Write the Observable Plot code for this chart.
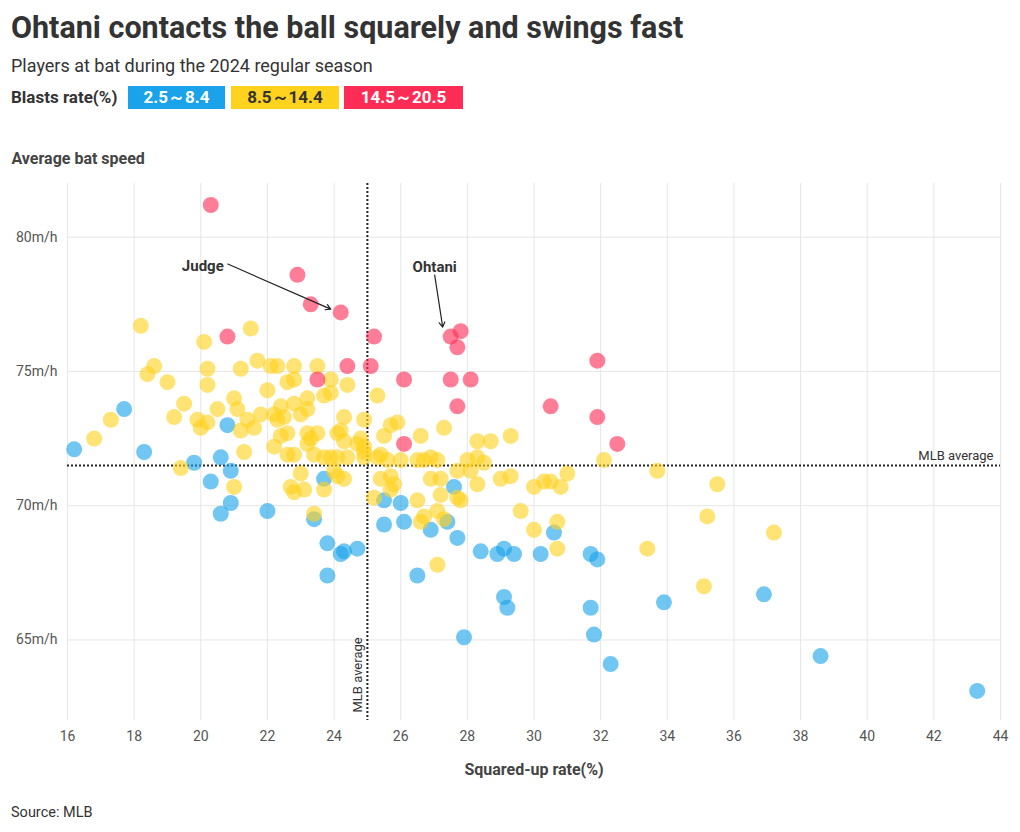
<!DOCTYPE html>
<html>
<head>
<meta charset="utf-8">
<script src="https://cdn.jsdelivr.net/npm/d3@7"></script>
<script src="https://cdn.jsdelivr.net/npm/@observablehq/plot@0.6"></script>
<style>
  body { margin: 0; background: #fff; font-family: Roboto, "Noto Sans", sans-serif; color: #333; width: 1020px; height: 832px; position: relative; overflow: hidden; }
  .abs { position: absolute; white-space: nowrap; }
  #title { left: 11px; top: 10px; line-height: 36px; font-size: 30.5px; font-weight: 700; color: #333; }
  #subtitle { left: 11px; top: 54px; line-height: 24px; font-size: 18px; color: #333; }
  #legend { left: 11px; top: 86px; height: 23px; line-height: 23px; font-size: 17px; font-weight: 700; display: flex; }
  #legend .sw { display: inline-block; height: 23px; text-align: center; }
  #chart { left: 0; top: 130px; }
  #source { left: 11px; top: 802px; line-height: 22px; font-size: 14.5px; color: #333; }
</style>
</head>
<body>
<div id="title" class="abs"></div>
<div id="subtitle" class="abs"></div>
<div id="legend" class="abs"></div>
<div id="chart" class="abs"></div>
<div id="source" class="abs"></div>
<script>
// ---- texts ----
const titleText = "Ohtani contacts the ball squarely and swings fast";
const subtitleText = "Players at bat during the 2024 regular season";
const legendTitle = "Blasts rate(%)";
const groupLabels = ["2.5～8.4", "8.5～14.4", "14.5～20.5"];
const groupColors = ["#1aa3ea", "#ffd21e", "#ff2d55"];
const groupTextColors = ["#fff", "#333", "#fff"];
const yAxisTitle = "Average bat speed";
const xAxisTitle = "Squared-up rate(%)";
const sourceText = "Source: MLB";

// ---- axis ticks ----
const xTicks = [16, 18, 20, 22, 24, 26, 28, 30, 32, 34, 36, 38, 40, 42, 44];
const yTicks = [65, 70, 75, 80];

// ---- MLB averages ----
const avgSquaredUp = 25;
const avgBatSpeed = 71.5;
const avgLabel = "MLB average";

// ---- players: [squared-up rate %, bat speed mph] ----
const blastsLow = [
  [16.2,72.1],[17.7,73.6],[18.3,72.0],[19.8,71.6],[20.8,73.0],[20.6,71.8],[20.9,71.3],[20.3,70.9],
  [20.9,70.1],[20.6,69.7],[22.0,69.8],[23.7,71.0],[23.4,69.5],[23.8,68.6],[24.2,68.2],[24.3,68.3],
  [24.7,68.4],[23.8,67.4],[25.5,70.2],[26.0,70.1],[25.5,69.3],[26.1,69.4],[26.9,69.1],[27.4,69.4],
  [27.6,70.7],[27.7,68.8],[26.5,67.4],[28.4,68.3],[28.9,68.2],[29.1,68.4],[29.4,68.2],[30.2,68.2],
  [30.6,69.0],[31.7,68.2],[31.9,68.0],[29.1,66.6],[29.2,66.2],[31.7,66.2],[27.9,65.1],[31.8,65.2],
  [32.3,64.1],[33.9,66.4],[36.9,66.7],[38.6,64.4],[43.3,63.1]
];
const blastsMid = [
  [16.8,72.5],[17.3,73.2],[18.2,76.7],[18.4,74.9],[18.6,75.2],[19.0,74.6],[19.5,73.8],[19.2,73.3],
  [19.4,71.4],[19.9,73.2],[20.0,72.9],[20.2,73.1],[20.1,76.1],[20.2,75.1],[20.2,74.5],[20.5,73.6],
  [21.0,74.0],[21.1,73.6],[21.2,72.8],[21.4,73.2],[21.6,72.9],[21.3,72.0],[21.0,70.7],[21.2,75.1],
  [21.5,76.6],[21.7,75.4],[21.8,73.4],[22.0,74.3],[22.1,75.2],[22.3,75.2],[22.8,75.2],[23.5,75.2],
  [22.6,74.6],[22.8,74.7],[22.2,73.4],[22.4,73.7],[22.3,73.2],[22.5,73.3],[22.8,73.8],[23.2,74.0],
  [23.2,73.6],[23.0,73.4],[22.2,72.2],[22.4,72.6],[22.6,72.7],[22.6,71.9],[22.8,71.9],[23.2,72.7],
  [23.3,72.5],[23.2,72.3],[23.5,72.7],[23.4,71.9],[23.7,71.8],[23.9,71.8],[24.1,71.8],[24.4,71.8],
  [23.9,74.7],[23.7,74.1],[23.9,74.2],[24.4,74.5],[24.3,73.3],[24.2,72.8],[24.1,72.7],[24.3,72.4],
  [24.7,72.3],[24.8,72.5],[24.9,73.2],[24.9,72.2],[24.9,72.0],[24.9,71.8],[23.0,71.2],[22.7,70.7],
  [22.8,70.5],[23.1,70.6],[23.4,69.7],[23.7,70.6],[24.0,71.3],[24.1,71.1],[24.3,71.0],
  [25.3,74.1],[25.9,73.1],[25.7,73.0],[25.5,72.6],[26.6,72.6],[27.3,72.9],[28.3,72.4],[28.7,72.4],
  [29.3,72.6],[25.4,71.9],[25.3,71.8],[25.6,71.7],[26.0,71.7],[26.5,71.7],[26.7,71.7],[26.9,71.8],
  [27.1,71.7],[28.0,71.7],[28.3,71.8],[28.5,71.6],[27.7,71.3],[28.1,71.3],[32.1,71.7],[33.7,71.3],
  [25.4,71.0],[25.7,71.1],[25.8,70.8],[25.7,70.6],[26.9,71.0],[27.2,71.0],[27.2,70.4],[26.5,70.2],
  [27.7,70.3],[27.8,70.2],[28.3,70.8],[29.0,71.0],[29.3,71.1],[30.0,70.7],[30.3,70.9],[30.5,70.9],
  [30.8,70.7],[31.0,71.2],[25.2,70.3],[29.6,69.8],[27.1,69.8],[27.3,69.5],[26.6,69.4],[26.7,69.6],
  [30.0,69.1],[30.7,69.4],[30.7,68.4],[33.4,68.4],[27.1,67.8],[35.5,70.8],[35.2,69.6],[37.2,69.0],
  [35.1,67.0]
];
const blastsHigh = [
  [20.3,81.2],[22.9,78.6],[23.3,77.5],[24.2,77.2],[20.8,76.3],[25.2,76.3],[27.5,76.3],[27.8,76.5],
  [27.7,75.9],[25.1,75.2],[23.5,74.7],[24.4,75.2],[26.1,74.7],[27.5,74.7],[28.1,74.7],[27.7,73.7],
  [31.9,75.4],[30.5,73.7],[31.9,73.3],[32.5,72.3],[26.1,72.3]
];

// ---- annotations ----
const noteNames = ["Judge", "Ohtani"];
const noteTextX = [20.69, 27.02];
const noteTextY = [78.92, 78.88];
const noteAnchor = ["end", "middle"];
const arrowFromX = [20.81, 27.02];
const arrowFromY = [79.0, 78.59];
const arrowToX = [23.9, 27.26];
const arrowToY = [77.32, 76.65];

// ---- header ----
document.getElementById("title").textContent = titleText;
document.getElementById("subtitle").textContent = subtitleText;
document.getElementById("source").textContent = sourceText;
const legendEl = document.getElementById("legend");
const lt = document.createElement("span");
lt.textContent = legendTitle;
lt.style.display = "inline-block";
lt.style.width = "117px";
legendEl.appendChild(lt);
const swWidths = [97, 108, 119];
const swGaps = [0, 6, 5];
groupLabels.forEach((g, i) => {
  const s = document.createElement("span");
  s.className = "sw";
  s.textContent = g;
  s.style.background = groupColors[i];
  s.style.color = groupTextColors[i];
  s.style.width = swWidths[i] + "px";
  s.style.marginLeft = swGaps[i] + "px";
  legendEl.appendChild(s);
});

// ---- data table ----
const players = [];
[blastsLow, blastsMid, blastsHigh].forEach((arr, gi) => {
  arr.forEach(([x, y]) => players.push({ squaredUp: x, batSpeed: y, group: groupLabels[gi] }));
});
const notes = noteNames.map((n, i) => ({
  name: n, tx: noteTextX[i], ty: noteTextY[i], anchor: noteAnchor[i],
  x1: arrowFromX[i], y1: arrowFromY[i], x2: arrowToX[i], y2: arrowToY[i]
}));

const chart = Plot.plot({
  width: 1020,
  height: 660,
  marginTop: 53,
  marginLeft: 67,
  marginRight: 20,
  marginBottom: 70,
  style: { fontFamily: "Roboto, 'Noto Sans', sans-serif", fontSize: "14px", color: "#555", background: "transparent" },
  x: { domain: [16, 44] },
  y: { domain: [62, 82] },
  color: { domain: groupLabels, range: groupColors },
  marks: [
    Plot.gridX(xTicks, { stroke: "#e6e6e6", strokeOpacity: 1 }),
    Plot.gridY(yTicks, { stroke: "#e6e6e6", strokeOpacity: 1 }),
    Plot.axisX(xTicks, { tickSize: 0, tickPadding: 11, label: null, fill: "#555", fontSize: 14 }),
    Plot.axisY(yTicks, { tickSize: 0, tickPadding: 10, label: null, tickFormat: d => d + "m/h", fill: "#555", fontSize: 14 }),
    Plot.ruleY([avgBatSpeed], { stroke: "#222", strokeWidth: 2, strokeDasharray: "2,2" }),
    Plot.ruleX([avgSquaredUp], { stroke: "#222", strokeWidth: 2, strokeDasharray: "2,2" }),
    Plot.dot(players, { x: "squaredUp", y: "batSpeed", fill: "group", r: 8, fillOpacity: 0.62, stroke: "none" }),
    Plot.text([avgLabel], { frameAnchor: "right", y: () => avgBatSpeed, text: d => d, textAnchor: "end", dx: -7, dy: -10, fill: "#333", fontSize: 13 }),
    Plot.text([avgLabel], { frameAnchor: "bottom", x: () => avgSquaredUp, text: d => d, rotate: -90, textAnchor: "start", lineAnchor: "middle", dx: -10, dy: -8, fill: "#333", fontSize: 13 }),
    Plot.arrow(notes, { x1: "x1", y1: "y1", x2: "x2", y2: "y2", stroke: "#222", strokeWidth: 1.2, headLength: 7, insetStart: 0, insetEnd: 0 }),
    Plot.text(notes.filter(d => d.anchor === "end"), { x: "tx", y: "ty", text: "name", textAnchor: "end", fontWeight: 700, fontSize: 15, fill: "#333" }),
    Plot.text(notes.filter(d => d.anchor === "middle"), { x: "tx", y: "ty", text: "name", textAnchor: "middle", fontWeight: 700, fontSize: 15, fill: "#333" }),
    Plot.text([yAxisTitle], { frameAnchor: "top-left", text: d => d, textAnchor: "start", lineAnchor: "middle", dx: -56, dy: -25, fontWeight: 700, fontSize: 16, fill: "#444" }),
    Plot.text([xAxisTitle], { frameAnchor: "bottom", text: d => d, lineAnchor: "middle", dy: 49, fontWeight: 700, fontSize: 16, fill: "#444" })
  ]
});
document.getElementById("chart").appendChild(chart);
</script>
</body>
</html>
